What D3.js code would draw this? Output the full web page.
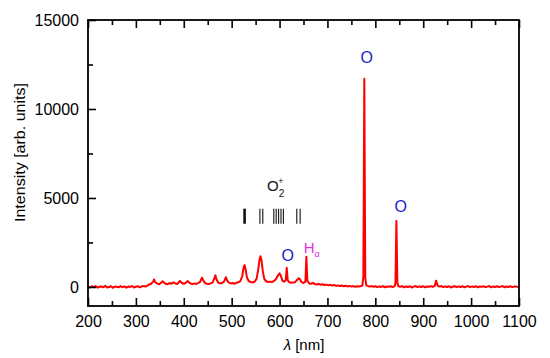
<!DOCTYPE html>
<html><head><meta charset="utf-8">
<script src="https://cdn.jsdelivr.net/npm/d3@7"></script>
<style>body{margin:0;background:#fff}svg{display:block;font-family:"Liberation Sans",Arial,sans-serif}</style>
</head><body>
<svg id="c" width="550" height="358"></svg>
<script>
// spectrum: [wavelength nm, intensity]
const spectrum = [
[200,20],[204,-30],[208,40],[212,-10],[216,50],[220,-40],[224,10],[228,30],[232,-20],[236,60],
[240,-30],[244,0],[248,40],[252,-50],[256,20],[260,10],[264,-20],[268,50],[272,-10],[276,30],
[280,-40],[284,20],[288,0],[292,50],[296,-30],[300,10],[304,40],[308,-20],[312,30],[316,60],[320,20],
[324,80],[328,140],[332,180],[336,300],[338,420],[340,280],[344,200],[348,150],[352,220],[356,320],
[358,260],[362,180],[366,150],[370,220],[374,180],[378,260],[382,200],[386,160],[390,280],[392,340],
[396,220],[400,180],[404,230],[408,330],[410,280],[414,190],[418,160],[422,200],[426,170],[430,220],
[434,280],[438,520],[440,400],[444,230],[448,180],[452,160],[456,200],[460,240],[464,500],[466,660],
[468,450],[472,240],[476,200],[480,220],[484,300],[488,550],[490,400],[494,240],[498,200],[502,220],
[506,180],[510,240],[514,260],[518,330],[522,600],[525,1100],[527,1230],[529,1000],[532,520],[536,320],
[540,280],[544,250],[548,300],[552,450],[555,900],[558,1500],[560,1720],[562,1550],[565,900],[568,450],
[572,320],[576,280],[580,300],[584,280],[588,330],[592,420],[596,620],[600,770],[603,600],[606,350],
[610,300],[613,400],[615,1080],[617,380],[620,270],[624,240],[628,250],[632,260],[636,380],[640,490],
[643,420],[646,280],[650,220],[654,300],[656,1700],[658,350],[662,200],[666,180],[670,230],[674,160],
[678,140],[682,180],[686,120],[690,150],[694,110],[698,130],[702,90],[706,120],[710,80],[714,110],
[718,60],[722,90],[726,50],[730,80],[734,40],[738,70],[742,30],[746,60],[750,20],[754,50],
[758,10],[762,40],[766,20],[770,50],[773,80],[775,600],[777,11700],[779,500],[781,100],[784,60],
[788,20],[792,50],[796,10],[800,40],[804,-10],[808,30],[812,0],[816,50],[820,-20],[824,30],
[828,10],[832,40],[836,-10],[840,30],[842,200],[844,3700],[846,250],[848,40],[852,10],[856,50],
[860,-20],[864,30],[868,0],[872,40],[876,-30],[880,20],[884,50],[888,-10],[892,30],[896,0],
[900,40],[904,-20],[908,30],[912,10],[916,50],[920,0],[924,60],[927,350],[930,80],[934,20],
[938,50],[942,-10],[946,30],[950,0],[954,40],[958,-30],[962,20],[966,40],[970,-10],[974,30],
[978,0],[982,40],[986,-20],[990,20],[994,50],[998,-10],[1002,30],[1006,0],[1010,40],[1014,-20],
[1018,30],[1022,10],[1026,40],[1030,-10],[1034,20],[1038,50],[1042,-20],[1046,30],[1050,0],[1054,40],
[1058,-10],[1062,20],[1066,50],[1070,-20],[1074,30],[1078,0],[1082,40],[1086,-10],[1090,20],[1094,30],
[1098,-10],[1100,10]
];
const xTicks = [200,300,400,500,600,700,800,900,1000,1100];
const xMinor = [250,350,450,550,650,750,850,950,1050];
const yTicks = [0,5000,10000,15000];
const yMinor = [2500,7500,12500];
// O2+ band heads (nm)
const o2Lines = [527,559,565,588,593,598,603,608,636,643];
const o2Range = [3550,4400];
const peakLabels = [
  {text:"O", wl:782, val:12880, color:"#1c1ccc"},
  {text:"O", wl:853, val:4510, color:"#1c1ccc"},
  {text:"O", wl:617, val:1760, color:"#1c1ccc"}
];

const svg = d3.select("#c");
const m = {l:88, r:519, t:20, b:306};
const x = d3.scaleLinear().domain([200,1100]).range([m.l,m.r]);
const y = d3.scaleLinear().domain([-1070,15000]).range([m.b,m.t]);

// spectrum line
svg.append("path").datum(spectrum)
  .attr("fill","none").attr("stroke","#f00").attr("stroke-width",2).attr("stroke-linejoin","round")
  .attr("d", d3.line().x(d=>x(d[0])).y(d=>y(d[1])));

// axes
const fs = "16px";
svg.append("g").attr("transform",`translate(0,${m.b})`)
  .call(d3.axisBottom(x).tickValues(xTicks).tickSize(-8).tickPadding(10).tickFormat(d3.format("d")));
svg.append("g").attr("transform",`translate(0,${m.b})`)
  .call(d3.axisBottom(x).tickValues(xMinor).tickSize(-5).tickFormat(""));
svg.append("g").attr("transform",`translate(0,${m.t})`)
  .call(d3.axisTop(x).tickValues(xTicks).tickSize(-8).tickFormat(""));
svg.append("g").attr("transform",`translate(0,${m.t})`)
  .call(d3.axisTop(x).tickValues(xMinor).tickSize(-5).tickFormat(""));
svg.append("g").attr("transform",`translate(${m.l},0)`)
  .call(d3.axisLeft(y).tickValues(yTicks).tickSize(-8).tickPadding(9).tickFormat(d3.format("d")));
svg.append("g").attr("transform",`translate(${m.l},0)`)
  .call(d3.axisLeft(y).tickValues(yMinor).tickSize(-5).tickFormat(""));
svg.selectAll(".domain").remove();
svg.selectAll(".tick line").attr("stroke","#000").attr("stroke-width",1.6);
svg.selectAll(".tick text").attr("fill","#000").style("font-size",fs).style("font-family","'Liberation Sans',Arial,sans-serif");

// frame
svg.append("rect").attr("x",m.l).attr("y",m.t).attr("width",m.r-m.l).attr("height",m.b-m.t)
  .attr("fill","none").attr("stroke","#000").attr("stroke-width",1.8);

// axis titles
svg.append("text").attr("transform",`translate(25,152.5) rotate(-90)`)
  .attr("text-anchor","middle").style("font-size","14px")
  .attr("textLength",139).attr("lengthAdjust","spacingAndGlyphs").text("Intensity [arb. units]");
const xt = svg.append("text").attr("x",304).attr("y",350).attr("text-anchor","middle").style("font-size","15px");
xt.append("tspan").style("font-style","italic").text("λ");
xt.append("tspan").text(" [nm]");

// O2+ band lines
svg.append("g").selectAll("line").data(o2Lines).join("line")
  .attr("x1",d=>x(d)).attr("x2",d=>x(d)).attr("y1",y(o2Range[0])).attr("y2",y(o2Range[1]))
  .attr("stroke","#111").attr("stroke-width",(d,i)=>i===0?2.6:1.1);

// O2+ label
const o2 = svg.append("text").attr("x",x(574)).attr("y",y(5390)).style("font-size","15px").attr("fill","#111");
o2.append("tspan").text("O");
o2.append("tspan").attr("dy",6).style("font-size","10px").text("2");
o2.append("tspan").attr("dx",-6).attr("dy",-13).style("font-size","9px").text("+");

// peak labels
svg.append("g").selectAll("text").data(peakLabels).join("text")
  .attr("x",d=>x(d.wl)).attr("y",d=>y(d.val)).attr("text-anchor","middle").attr("dominant-baseline","central")
  .attr("fill",d=>d.color).style("font-size","16px").text(d=>d.text);
const h = svg.append("text").attr("x",x(650.5)).attr("y",y(1890)).attr("fill","#e030e0").style("font-size","15px");
h.append("tspan").text("H");
h.append("tspan").attr("dy",4).style("font-size","9px").text("α");
</script>
</body></html>
